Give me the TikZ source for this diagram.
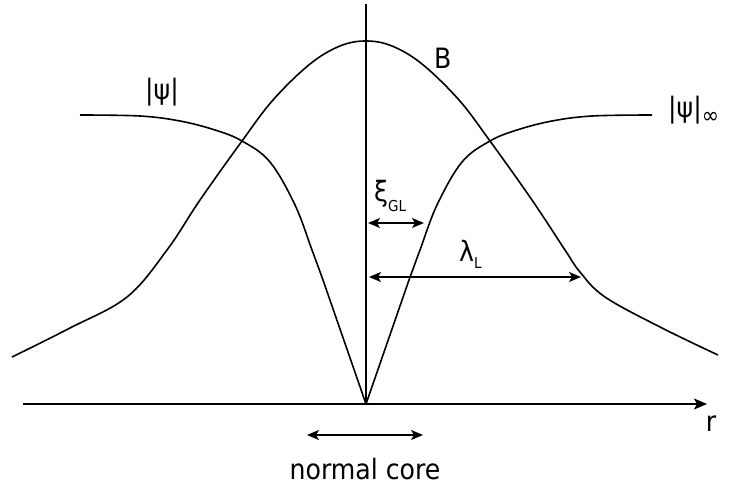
\documentclass[tikz,border=0pt]{standalone}
\usepackage{fontspec}
\setmainfont{DejaVu Sans Condensed}
\usetikzlibrary{arrows.meta}
\newcommand\lsub[2]{\raisebox{-#2}{\fontsize{15}{15}\selectfont #1}}
\tikzset{
  curve/.style={line width=1.6pt, line join=round},
  dim/.style={line width=1.4pt, {Stealth[length=12pt,width=10pt,inset=3pt]}-{Stealth[length=12pt,width=10pt,inset=3pt]}},
  lbl/.style={inner sep=0pt, font=\fontsize{28}{32}\selectfont},
}
\begin{document}
\begin{tikzpicture}[x=1pt,y=-1pt]
\useasboundingbox (0,0) rectangle (732,488);
% axes
\coordinate (axL) at (23,404);
\coordinate (axR) at (707,404);
\coordinate (vtop) at (366,4);
\coordinate (core) at (366,404);
\draw[line width=1.6pt,-{Stealth[length=13pt,width=11pt,inset=3pt]}] (axL) -- (axR);
\draw[line width=1.6pt] (vtop) -- (core);
% B curve
\draw[curve] plot[smooth, tension=0.6] coordinates {
 (12,357) (70,328) (127,297) (167,250) (200,200) (242,141) (273,100) (310,64) (340,46) (366,41)
 (392,46) (422,64) (459,100) (490,141) (532,200) (565,250) (580,272) (605,297) (662,328) (718,355)};
% psi curve
\draw[curve] plot[smooth, tension=0.6] coordinates {
 (80,115) (140,116) (180,121) (215,130) (242,141) (270,162) (295,205) (312,250) (323,280)}
 -- (core) -- (409,280);
\draw[curve] plot[smooth, tension=0.6] coordinates {
 (409,280) (420,250) (437,205) (462,162) (490,141) (517,130) (552,121) (592,116) (652,115)};
% dimension arrows
\coordinate (xiL) at (368,223);
\coordinate (xiR) at (424,223);
\coordinate (laL) at (369,277);
\coordinate (laR) at (581,277);
\coordinate (ncL) at (307,435);
\coordinate (ncR) at (423,435);
\draw[dim] (xiL) -- (xiR);
\draw[dim] (laL) -- (laR);
\draw[dim] (ncL) -- (ncR);
% labels
\node[lbl, anchor=base west] (psi) at (145,99) {|ψ|};
\node[lbl, anchor=base west] (psiinf) at (668,117) {|ψ|\raisebox{-6pt}{\fontsize{23}{23}\selectfont ∞}};
\node[lbl, anchor=base west] (B) at (434,68) {B};
\node[lbl, anchor=base west] (xi) at (374,201) {ξ\lsub{GL}{10pt}};
\node[lbl, anchor=base west] (la) at (459,261) {λ\lsub{L}{7pt}};
\node[lbl, anchor=base] (r) at (711,431) {r};
\node[lbl, anchor=base] (nc) at (365,479) {normal core};
\end{tikzpicture}
\end{document}
